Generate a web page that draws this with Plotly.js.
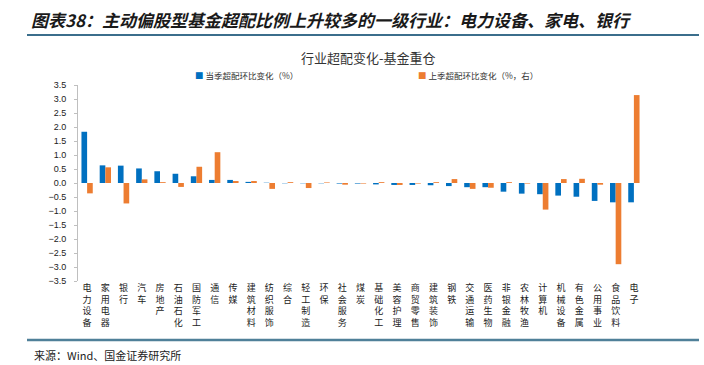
<!DOCTYPE html>
<html><head><meta charset="utf-8">
<script src="https://cdn.plot.ly/plotly-3.0.1.min.js"></script>
<style>body{margin:0;background:#fff}#c{width:704px;height:365px}</style>
</head><body><div id="c"></div>
<script>
const categories = ["电力设备","家用电器","银行","汽车","房地产","石油石化","国防军工","通信","传媒","建筑材料","纺织服饰","综合","轻工制造","环保","社会服务","煤炭","基础化工","美容护理","商贸零售","建筑装饰","钢铁","交通运输","医药生物","非银金融","农林牧渔","计算机","机械设备","有色金属","公用事业","食品饮料","电子"];
const currentQ = [1.83,0.63,0.62,0.52,0.42,0.33,0.24,0.11,0.11,0.04,0.01,-0.01,-0.01,-0.01,-0.02,-0.02,-0.05,-0.07,-0.07,-0.08,-0.11,-0.15,-0.15,-0.31,-0.38,-0.40,-0.45,-0.49,-0.64,-0.69,-0.69];
const lastQ = [-0.37,0.56,-0.73,0.13,0.03,-0.14,0.58,1.10,0.07,0.07,-0.21,0.03,-0.18,0.02,-0.06,-0.02,0.03,-0.07,-0.02,0.03,0.14,-0.21,-0.17,0.03,-0.02,-0.95,0.14,0.15,-0.06,-2.90,3.14];
const seriesNames = ["当季超配环比变化（%）","上季超配环比变化（%，右）"];
const yTicks = [-3.5,-3.0,-2.5,-2.0,-1.5,-1.0,-0.5,0,0.5,1.0,1.5,2.0,2.5,3.0,3.5];
const heading = "图表38：主动偏股型基金超配比例上升较多的一级行业：电力设备、家电、银行";
const subtitle = "行业超配变化-基金重仓";
const source = "来源：Wind、国金证券研究所";
const colors = ["#0070C0","#ED7D31"];

const tickText = categories.map(c => c.split("").join("<br>"));
const cjk = '"Noto Sans CJK SC", sans-serif';

// pixel -> paper helpers (plot area: x 78..643, y 85..281)
const L = 78, R = 643, T = 85, B = 281;
const px = x => (x - L) / (R - L);
const py = y => (B - y) / (B - T);

const traces = [
  {type:"bar", name:seriesNames[0], x:categories, y:currentQ, marker:{color:colors[0]}, hoverinfo:"skip"},
  {type:"bar", name:seriesNames[1], x:categories, y:lastQ, marker:{color:colors[1]}, hoverinfo:"skip"}
];

const layout = {
  width:704, height:365,
  margin:{l:L, r:704-R, t:T, b:365-B, pad:0},
  paper_bgcolor:"#fff", plot_bgcolor:"#fff",
  showlegend:false,
  barmode:"group", bargap:0.38, bargroupgap:0,
  font:{family:cjk, size:9, color:"#222"},
  xaxis:{type:"category", tickmode:"array", tickvals:categories, ticktext:tickText, tickangle:0,
         showline:false, ticks:"", showgrid:false, zeroline:false,
         tickfont:{family:cjk, size:9, color:"#222"}, range:[-0.5, categories.length-0.5]},
  xaxis2:{type:"linear", overlaying:"x", anchor:"free", position:0.5, range:[-0.5, categories.length-0.5],
          tick0:-0.5, dtick:1, ticks:"outside", ticklen:3, tickcolor:"#bfbfbf", showticklabels:false,
          showline:true, linecolor:"#bfbfbf", linewidth:1, showgrid:false, zeroline:false},
  yaxis:{range:[-3.5,3.5], tickmode:"array", tickvals:yTicks, tickformat:".1f",
         showline:true, linecolor:"#bfbfbf", linewidth:1, ticks:"outside", ticklen:3, tickcolor:"#bfbfbf",
         ticklabelstandoff:6,
         showgrid:false, zeroline:false, tickfont:{family:"Liberation Sans, Arial, sans-serif", size:9, color:"#222"}},
  annotations:[
    {text:heading, xref:"paper", yref:"paper", x:px(29), y:py(20), xanchor:"left", yanchor:"middle", showarrow:false,
     font:{family:cjk, size:17, color:"#1a1a1a", weight:"bold", style:"italic"}},
    {text:subtitle, xref:"paper", yref:"paper", x:px(368), y:py(57), xanchor:"center", yanchor:"middle", showarrow:false,
     font:{family:cjk, size:13, color:"#333"}},
    {text:'<span style="color:'+colors[0]+'">■</span> '+seriesNames[0], xref:"paper", yref:"paper", x:px(193), y:py(75),
     xanchor:"left", yanchor:"middle", showarrow:false, font:{family:cjk, size:8.5, color:"#333"}},
    {text:'<span style="color:'+colors[1]+'">■</span> '+seriesNames[1], xref:"paper", yref:"paper", x:px(416), y:py(75),
     xanchor:"left", yanchor:"middle", showarrow:false, font:{family:cjk, size:8.5, color:"#333"}},
    {text:source, xref:"paper", yref:"paper", x:px(32), y:py(355), xanchor:"left", yanchor:"middle", showarrow:false,
     font:{family:cjk, size:11, color:"#222"}}
  ],
  shapes:[
    {type:"line", xref:"paper", yref:"paper", x0:px(27), x1:px(699), y0:py(35), y1:py(35), line:{color:"#3b6e8c", width:2}},
    {type:"line", xref:"paper", yref:"paper", x0:px(27), x1:px(699), y0:py(340), y1:py(340), line:{color:"#4f8099", width:2.5}}
  ]
};

Plotly.newPlot("c", traces, layout, {staticPlot:true, displayModeBar:false});
</script></body></html>
